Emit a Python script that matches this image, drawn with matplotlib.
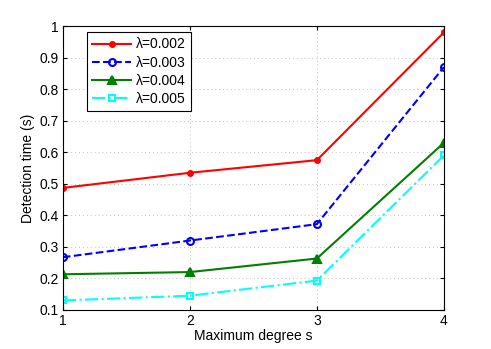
import matplotlib
matplotlib.use("Agg")
import matplotlib.pyplot as plt

plt.rcParams["font.family"] = ["Liberation Sans", "DejaVu Sans"]

degree = [1, 2, 3, 4]
lam_labels = ["λ=0.002", "λ=0.003", "λ=0.004", "λ=0.005"]
t_002 = [0.487, 0.535, 0.575, 0.980]
t_003 = [0.267, 0.320, 0.372, 0.870]
t_004 = [0.213, 0.220, 0.263, 0.630]
t_005 = [0.130, 0.145, 0.193, 0.590]

styles = [
    (t_002, "red", "-", "o", "red", 3.5),
    (t_003, "blue", "--", "o", "none", 5),
    (t_004, "green", "-", "^", "green", 6),
    (t_005, "cyan", "-.", "s", "none", 4.5),
]

fig = plt.figure(figsize=(4.91, 3.49), dpi=100)
ax = fig.add_axes([0.128, 0.112, 0.776, 0.813])
for (vals, color, ls, mk, mfc, ms), label in zip(styles, lam_labels):
    ax.plot(degree, vals, color=color, ls=ls, lw=1.5, marker=mk, ms=ms,
            mfc=mfc, mec=color, mew=1.5, label=label)

ax.set_xlim(1, 4)
ax.set_ylim(0.1, 1)
ax.set_xticks(degree)
ax.set_yticks([0.1, 0.2, 0.3, 0.4, 0.5, 0.6, 0.7, 0.8, 0.9, 1])
ax.set_yticklabels(["0.1", "0.2", "0.3", "0.4", "0.5", "0.6", "0.7", "0.8", "0.9", "1"])
ax.grid(True, color="#c0c0c0", ls=(0, (1, 3)), lw=0.7)
ax.tick_params(direction="in", top=True, right=True, labelsize=10, length=3,
               pad=3)
for sp in ax.spines.values():
    sp.set_linewidth(0.8)
ax.set_xlabel("Maximum degree s", fontsize=10, labelpad=1)
ax.set_ylabel("Detection time (s)", fontsize=10, labelpad=3)

leg = ax.legend(loc="upper left", bbox_to_anchor=(0.063, 0.98), fontsize=10,
                fancybox=False, edgecolor="black", framealpha=1,
                handlelength=2.8, borderaxespad=0, labelspacing=0.3,
                handletextpad=0.3, borderpad=0.4)
leg.get_frame().set_linewidth(0.8)

fig.savefig("out.png", dpi=100)
